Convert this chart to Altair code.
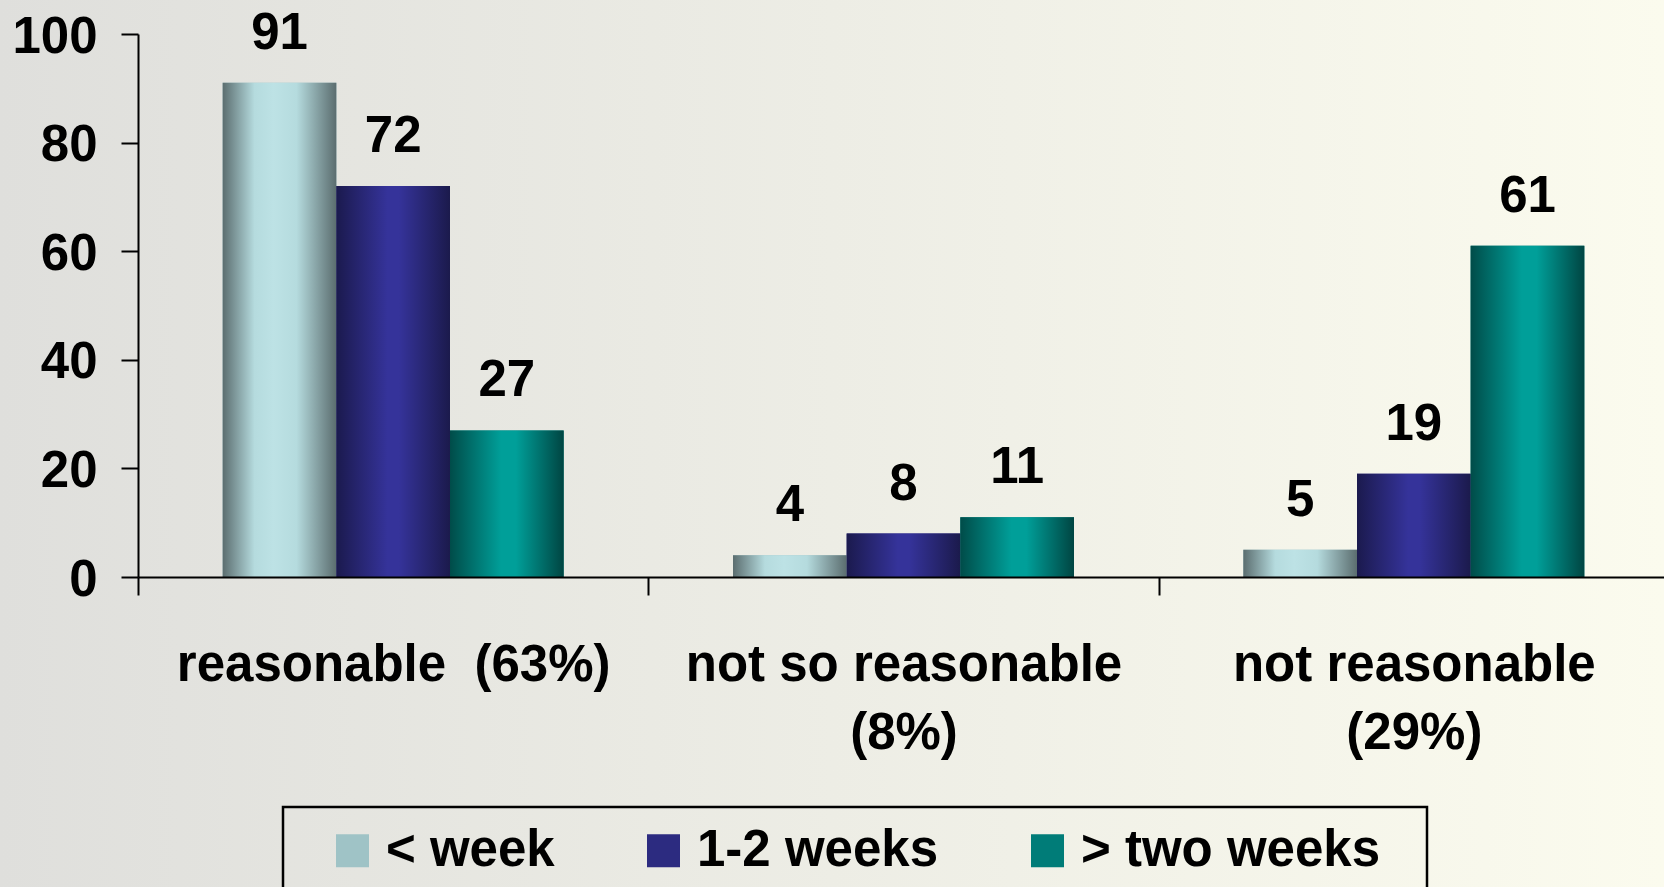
import altair as alt
import pandas as pd

NBSP = "\u00a0"
ZWSP = "\u200b"

# Response categories (two-line labels split on "\n") and waiting-time groups
categories = [f"reasonable{NBSP}{NBSP}(63%)", "not so reasonable\n(8%)", "not reasonable\n(29%)"]
series = ["< week", "1-2 weeks", "> two weeks"]

# Percentages per category for each waiting-time group
pct_week = [91, 4, 5]
pct_1_2_weeks = [72, 8, 19]
pct_two_weeks = [27, 11, 61]

y_ticks = [0, 20, 40, 60, 80, 100]

rows = []
for s, vals in zip(series, [pct_week, pct_1_2_weeks, pct_two_weeks]):
    for c, v in zip(categories, vals):
        rows.append({"category": c, "series": s, "value": v})
df = pd.DataFrame(rows)

FONT = "Liberation Sans"
FS = 51


def grad(stops):
    return alt.LinearGradient(
        gradient="linear",
        stops=[alt.GradientStop(offset=o, color=c) for o, c in stops],
        x1=0, x2=1, y1=0, y2=0,
    )


bar_fills = {
    "< week": grad([(0, "#5b6d6f"), (0.28, "#b5dbde"), (0.45, "#bde2e5"),
                    (0.65, "#b5dbde"), (1, "#5b6d6f")]),
    "1-2 weeks": grad([(0, "#1b1a4e"), (0.45, "#35339a"), (0.55, "#35339a"),
                       (1, "#1b1a4c")]),
    "> two weeks": grad([(0, "#004c49"), (0.45, "#009f99"), (0.58, "#009f99"),
                         (1, "#004542")]),
}
legend_colors = ["#9fc3c6", "#2c2b80", "#007c78"]

bg_fill = grad([(0, "#dfdfdc"), (1, "#fbfbee")])

x_enc = alt.X(
    "category:N",
    sort=categories,
    scale=alt.Scale(domain=categories, range=[0, 1531], paddingInner=0, paddingOuter=0),
    axis=alt.Axis(
        title=None,
        labelAngle=0,
        labelExpr="split(datum.label, '\\n')",
        labelFont=FONT, labelFontSize=FS, labelFontWeight="bold", labelColor="black",
        labelLineHeight=68, labelBaseline="alphabetic", labelPadding=85,
        labelLimit=800,
        tickBand="extent", tickSize=18, tickWidth=2, tickColor="black",
        domainColor="black", domainWidth=2, zindex=1,
    ),
)
xoff_enc = alt.XOffset(
    "series:N",
    scale=alt.Scale(domain=series, paddingInner=0, paddingOuter=0.745),
)
y_enc = alt.Y(
    "value:Q",
    scale=alt.Scale(domain=[0, 100], nice=False),
    axis=alt.Axis(
        title=None, values=y_ticks, grid=False,
        labelFont=FONT, labelFontSize=FS, labelFontWeight="bold", labelColor="black",
        labelBaseline="alphabetic", labelOffset=18, labelPadding=24,
        tickSize=17, tickWidth=2, tickColor="black",
        domainColor="black", domainWidth=2, zindex=1,
    ),
)

background = alt.Chart(alt.Data(values=[{}])).mark_rect(fill=bg_fill).encode(
    x=alt.value(-138), x2=alt.value(1526), y=alt.value(-34), y2=alt.value(853)
)

base = alt.Chart(df)

# trailing no-break spaces widen the last legend entry so the frame has room on the right
last_label_expr = (
    f"datum.label == '> two weeks' ? datum.label + '{NBSP}{NBSP}{ZWSP}' : datum.label"
)

legend_bars = base.mark_bar().encode(
    x=x_enc, xOffset=xoff_enc, y=y_enc,
    color=alt.Color(
        "series:N",
        scale=alt.Scale(domain=series, range=legend_colors),
        legend=alt.Legend(
            title=" ", titleOrient="left", titleFontSize=1, titlePadding=26,
            orient="none", legendX=145, legendY=773, direction="horizontal",
            symbolType="square", symbolSize=1089, symbolStrokeWidth=0,
            symbolOpacity=1,
            labelFont=FONT, labelFontSize=FS, labelFontWeight="bold",
            labelColor="black", labelOffset=8, labelLimit=600,
            labelExpr=last_label_expr,
            columnPadding=83, padding=18,
            strokeColor="black",
        ),
    ),
)

gradient_layers = [
    base.transform_filter(alt.datum.series == s)
    .mark_bar(fill=bar_fills[s])
    .encode(x=x_enc, xOffset=xoff_enc, y=y_enc)
    for s in series
]

labels = base.mark_text(
    dy=-34, baseline="alphabetic", align="center",
    font=FONT, fontSize=FS, fontWeight="bold", color="black",
).encode(x=x_enc, xOffset=xoff_enc, y=y_enc, text="value:Q")

chart = (
    alt.layer(background, legend_bars, *gradient_layers, labels)
    .properties(
        width=1526, height=543,
        autosize=alt.AutoSizeParams(type="none"),
        padding={"left": 138, "top": 34, "right": 0, "bottom": 310},
        background="#e9e9e4",
    )
    .configure_view(stroke=None)
    .configure_legend(strokeWidth=2.5)
)

chart.save("out.html", embed_options={"renderer": "svg", "actions": False})
